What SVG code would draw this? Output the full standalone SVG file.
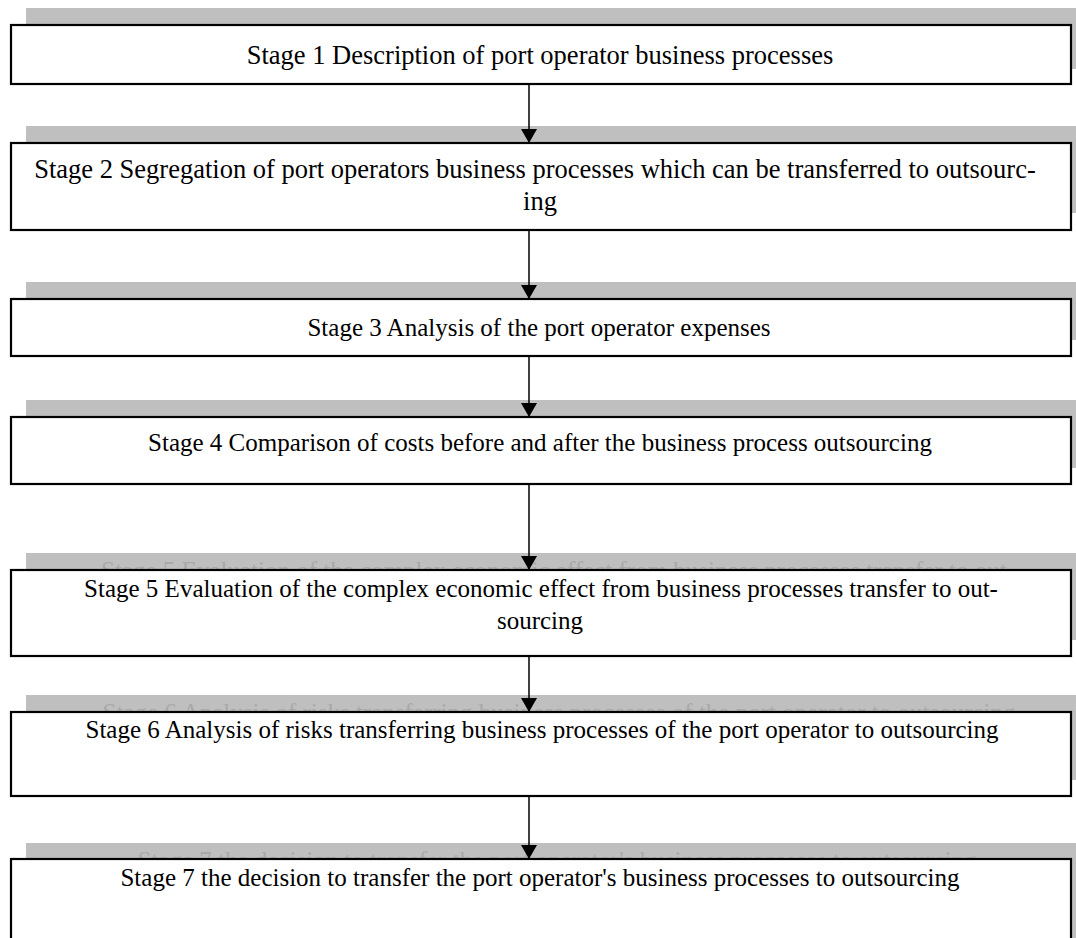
<svg xmlns="http://www.w3.org/2000/svg" width="1076" height="938" viewBox="0 0 1076 938">
<style>
.sh{fill:#bfbfbf}
.bx{fill:#fff;stroke:#000;stroke-width:2.2}
.t{font-family:"Liberation Serif","Times New Roman",serif;font-size:25px;fill:#000;text-anchor:middle}
.L{font-size:26.5px}
.g{font-family:"Liberation Serif","Times New Roman",serif;font-size:25px;fill:#a9a9a9;text-anchor:middle}
.c{stroke:#000;stroke-width:1.5;fill:none;marker-end:url(#ah)}
</style>
<defs>
<marker id="ah" viewBox="0 0 14 16" refX="14" refY="8" markerWidth="14" markerHeight="16" markerUnits="userSpaceOnUse" orient="auto">
<path d="M0,0 L14,8 L0,16 Z" fill="#000"/>
</marker>
</defs>
<g id="stage1">
<rect class="sh" x="26" y="8" width="1060" height="61"/>
<rect class="bx" x="11" y="25" width="1060" height="59"/>
<text class="t L" x="540" y="64">Stage 1 Description of port operator business processes</text>
</g>
<g id="stage2">
<rect class="sh" x="26" y="126" width="1060" height="87"/>
<rect class="bx" x="11" y="143" width="1060" height="87"/>
<text class="t L" x="535" y="178">Stage 2 Segregation of port operators business processes which can be transferred to outsourc-</text>
<text class="t L" x="540" y="210">ing</text>
</g>
<g id="stage3">
<rect class="sh" x="26" y="282" width="1060" height="58"/>
<rect class="bx" x="11" y="299" width="1060" height="57"/>
<text class="t" x="539" y="336">Stage 3 Analysis of the port operator expenses</text>
</g>
<g id="stage4">
<rect class="sh" x="26" y="400" width="1060" height="68"/>
<rect class="bx" x="11" y="417" width="1060" height="67"/>
<text class="t" x="540" y="451">Stage 4 Comparison of costs before and after the business process outsourcing</text>
</g>
<g id="stage5">
<rect class="sh" x="26" y="553" width="1060" height="87"/>
<text class="g" x="558" y="579">Stage 5 Evaluation of the complex economic effect from business processes transfer to out-</text>
<rect class="bx" x="11" y="570" width="1060" height="86"/>
<text class="t" x="541" y="597">Stage 5 Evaluation of the complex economic effect from business processes transfer to out-</text>
<text class="t" x="540" y="629">sourcing</text>
</g>
<g id="stage6">
<rect class="sh" x="26" y="695" width="1060" height="85"/>
<text class="g" x="559" y="721">Stage 6 Analysis of risks transferring business processes of the port operator to outsourcing</text>
<rect class="bx" x="11" y="712" width="1060" height="84"/>
<text class="t" x="542" y="738">Stage 6 Analysis of risks transferring business processes of the port operator to outsourcing</text>
</g>
<g id="stage7">
<rect class="sh" x="26" y="843" width="1060" height="100"/>
<text class="g" x="557" y="869">Stage 7 the decision to transfer the port operator's business processes to outsourcing</text>
<rect class="bx" x="11" y="859" width="1060" height="100"/>
<text class="t" x="540" y="886">Stage 7 the decision to transfer the port operator's business processes to outsourcing</text>
</g>
<g id="connectors">
<line class="c" x1="529" y1="84" x2="529" y2="143"/>
<line class="c" x1="529" y1="230" x2="529" y2="299"/>
<line class="c" x1="529" y1="356" x2="529" y2="417"/>
<line class="c" x1="529" y1="484" x2="529" y2="570"/>
<line class="c" x1="529" y1="656" x2="529" y2="712"/>
<line class="c" x1="529" y1="796" x2="529" y2="859"/>
</g>
</svg>
